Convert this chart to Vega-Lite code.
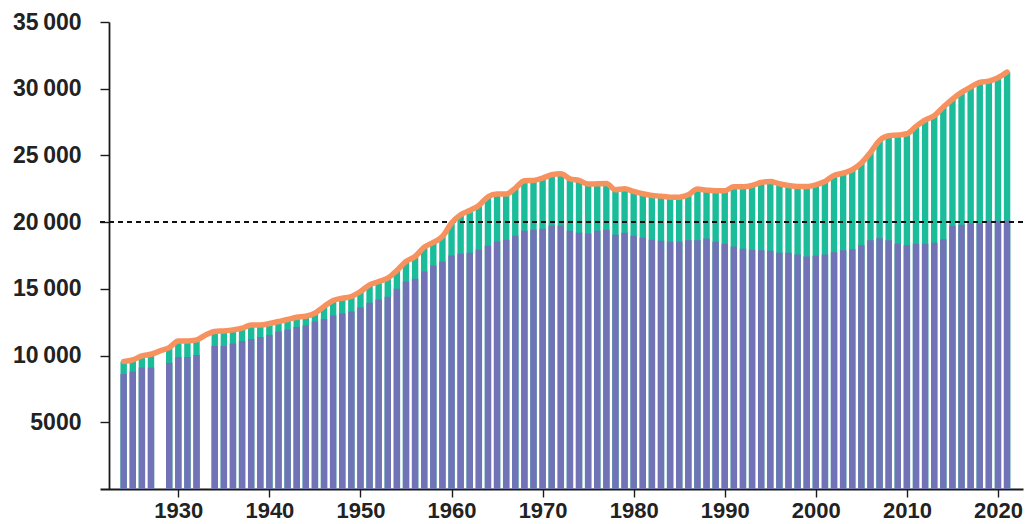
{
  "$schema": "https://vega.github.io/schema/vega-lite/v6.json",
  "width": 923,
  "height": 467,
  "autosize": {"type": "none"},
  "padding": {"left": 100, "top": 22, "right": 8, "bottom": 35},
  "background": "white",
  "config": {"view": {"stroke": null}},
  "data": {"values": [
    {"year": 1924, "base": 8625, "total": 9550},
    {"year": 1925, "base": 8800, "total": 9675},
    {"year": 1926, "base": 9100, "total": 9975},
    {"year": 1927, "base": 9100, "total": 10100},
    {"year": 1928, "base": null, "total": 10350},
    {"year": 1929, "base": 9450, "total": 10600},
    {"year": 1930, "base": 9900, "total": 11100},
    {"year": 1931, "base": 9900, "total": 11100},
    {"year": 1932, "base": 10050, "total": 11175},
    {"year": 1933, "base": null, "total": 11550},
    {"year": 1934, "base": 10725, "total": 11800},
    {"year": 1935, "base": 10725, "total": 11850},
    {"year": 1936, "base": 10900, "total": 11925},
    {"year": 1937, "base": 11100, "total": 12050},
    {"year": 1938, "base": 11250, "total": 12300},
    {"year": 1939, "base": 11400, "total": 12300},
    {"year": 1940, "base": 11550, "total": 12400},
    {"year": 1941, "base": 11800, "total": 12550},
    {"year": 1942, "base": 11950, "total": 12700},
    {"year": 1943, "base": 12150, "total": 12875},
    {"year": 1944, "base": 12250, "total": 12950},
    {"year": 1945, "base": 12550, "total": 13175},
    {"year": 1946, "base": 12750, "total": 13675},
    {"year": 1947, "base": 13000, "total": 14125},
    {"year": 1948, "base": 13150, "total": 14300},
    {"year": 1949, "base": 13300, "total": 14425},
    {"year": 1950, "base": 13600, "total": 14800},
    {"year": 1951, "base": 13950, "total": 15300},
    {"year": 1952, "base": 14200, "total": 15550},
    {"year": 1953, "base": 14400, "total": 15800},
    {"year": 1954, "base": 15000, "total": 16375},
    {"year": 1955, "base": 15550, "total": 17050},
    {"year": 1956, "base": 15750, "total": 17425},
    {"year": 1957, "base": 16300, "total": 18125},
    {"year": 1958, "base": 16750, "total": 18475},
    {"year": 1959, "base": 17050, "total": 18925},
    {"year": 1960, "base": 17500, "total": 19925},
    {"year": 1961, "base": 17625, "total": 20550},
    {"year": 1962, "base": 17700, "total": 20875},
    {"year": 1963, "base": 17925, "total": 21250},
    {"year": 1964, "base": 18225, "total": 21900},
    {"year": 1965, "base": 18550, "total": 22100},
    {"year": 1966, "base": 18675, "total": 22100},
    {"year": 1967, "base": 18975, "total": 22550},
    {"year": 1968, "base": 19350, "total": 23100},
    {"year": 1969, "base": 19425, "total": 23125},
    {"year": 1970, "base": 19500, "total": 23300},
    {"year": 1971, "base": 19750, "total": 23550},
    {"year": 1972, "base": 19750, "total": 23625},
    {"year": 1973, "base": 19350, "total": 23250},
    {"year": 1974, "base": 19200, "total": 23125},
    {"year": 1975, "base": 19150, "total": 22850},
    {"year": 1976, "base": 19350, "total": 22875},
    {"year": 1977, "base": 19425, "total": 22900},
    {"year": 1978, "base": 19050, "total": 22425},
    {"year": 1979, "base": 19200, "total": 22500},
    {"year": 1980, "base": 18975, "total": 22300},
    {"year": 1981, "base": 18825, "total": 22125},
    {"year": 1982, "base": 18675, "total": 22000},
    {"year": 1983, "base": 18600, "total": 21950},
    {"year": 1984, "base": 18525, "total": 21875},
    {"year": 1985, "base": 18525, "total": 21875},
    {"year": 1986, "base": 18650, "total": 22050},
    {"year": 1987, "base": 18650, "total": 22475},
    {"year": 1988, "base": 18775, "total": 22400},
    {"year": 1989, "base": 18525, "total": 22350},
    {"year": 1990, "base": 18375, "total": 22350},
    {"year": 1991, "base": 18175, "total": 22650},
    {"year": 1992, "base": 18000, "total": 22650},
    {"year": 1993, "base": 17925, "total": 22750},
    {"year": 1994, "base": 17900, "total": 22975},
    {"year": 1995, "base": 17850, "total": 23050},
    {"year": 1996, "base": 17700, "total": 22875},
    {"year": 1997, "base": 17700, "total": 22750},
    {"year": 1998, "base": 17575, "total": 22675},
    {"year": 1999, "base": 17425, "total": 22675},
    {"year": 2000, "base": 17475, "total": 22800},
    {"year": 2001, "base": 17575, "total": 23050},
    {"year": 2002, "base": 17750, "total": 23500},
    {"year": 2003, "base": 17900, "total": 23675},
    {"year": 2004, "base": 17975, "total": 23925},
    {"year": 2005, "base": 18275, "total": 24425},
    {"year": 2006, "base": 18650, "total": 25225},
    {"year": 2007, "base": 18800, "total": 26125},
    {"year": 2008, "base": 18650, "total": 26475},
    {"year": 2009, "base": 18375, "total": 26525},
    {"year": 2010, "base": 18275, "total": 26625},
    {"year": 2011, "base": 18375, "total": 27175},
    {"year": 2012, "base": 18375, "total": 27650},
    {"year": 2013, "base": 18450, "total": 27975},
    {"year": 2014, "base": 18725, "total": 28625},
    {"year": 2015, "base": 19725, "total": 29225},
    {"year": 2016, "base": 19800, "total": 29725},
    {"year": 2017, "base": 19925, "total": 30125},
    {"year": 2018, "base": 19925, "total": 30475},
    {"year": 2019, "base": 20100, "total": 30575},
    {"year": 2020, "base": 20100, "total": 30825},
    {"year": 2021, "base": 20125, "total": 31250}
  ]},
  "encoding": {
    "x": {
      "field": "year",
      "type": "quantitative",
      "scale": {"domain": [1921.95, 2022.2], "nice": false, "zero": false},
      "axis": {
        "title": null,
        "values": [1930, 1940, 1950, 1960, 1970, 1980, 1990, 2000, 2010, 2020],
        "format": "d",
        "grid": false,
        "domainColor": "#1a1a1a",
        "domainWidth": 1.8,
        "tickColor": "#1a1a1a",
        "tickWidth": 1.4,
        "tickSize": 8,
        "labelFont": "Liberation Sans",
        "labelFontWeight": "bold",
        "labelFontSize": 22,
        "labelColor": "#222222",
        "labelPadding": 3
      }
    }
  },
  "layer": [
    {
      "transform": [{"filter": "isValid(datum.base)"}],
      "mark": {"type": "bar", "width": 6.4, "color": "#1abc9a"},
      "encoding": {
        "y": {
          "field": "total",
          "type": "quantitative",
          "scale": {"domain": [0, 35000], "nice": false},
          "axis": {
            "title": null,
            "values": [5000, 10000, 15000, 20000, 25000, 30000, 35000],
            "labelExpr": "datum.value >= 10000 ? floor(datum.value / 1000) + '\u2009000' : format(datum.value, 'd')",
            "grid": false,
            "offset": -9,
            "domainColor": "#1a1a1a",
            "domainWidth": 1.8,
            "tickColor": "#1a1a1a",
            "tickWidth": 1.4,
            "tickSize": 9,
            "labelFont": "Liberation Sans",
            "labelFontWeight": "bold",
            "labelFontSize": 23,
            "labelColor": "#222222",
            "labelPadding": 19
          }
        }
      }
    },
    {
      "transform": [{"filter": "isValid(datum.base)"}],
      "mark": {"type": "bar", "width": 6.4, "color": "#7272b6"},
      "encoding": {"y": {"field": "base", "type": "quantitative"}}
    },
    {
      "mark": {"type": "rule", "color": "#111111", "strokeWidth": 1.2, "strokeDash": [5, 4]},
      "encoding": {"y": {"datum": 20000}, "x": {"value": 0}, "x2": {"value": 923}}
    },
    {
      "mark": {"type": "line", "color": "#f7925f", "strokeWidth": 5.5, "interpolate": "monotone", "strokeCap": "round", "strokeJoin": "round"},
      "encoding": {"y": {"field": "total", "type": "quantitative"}}
    }
  ]
}
